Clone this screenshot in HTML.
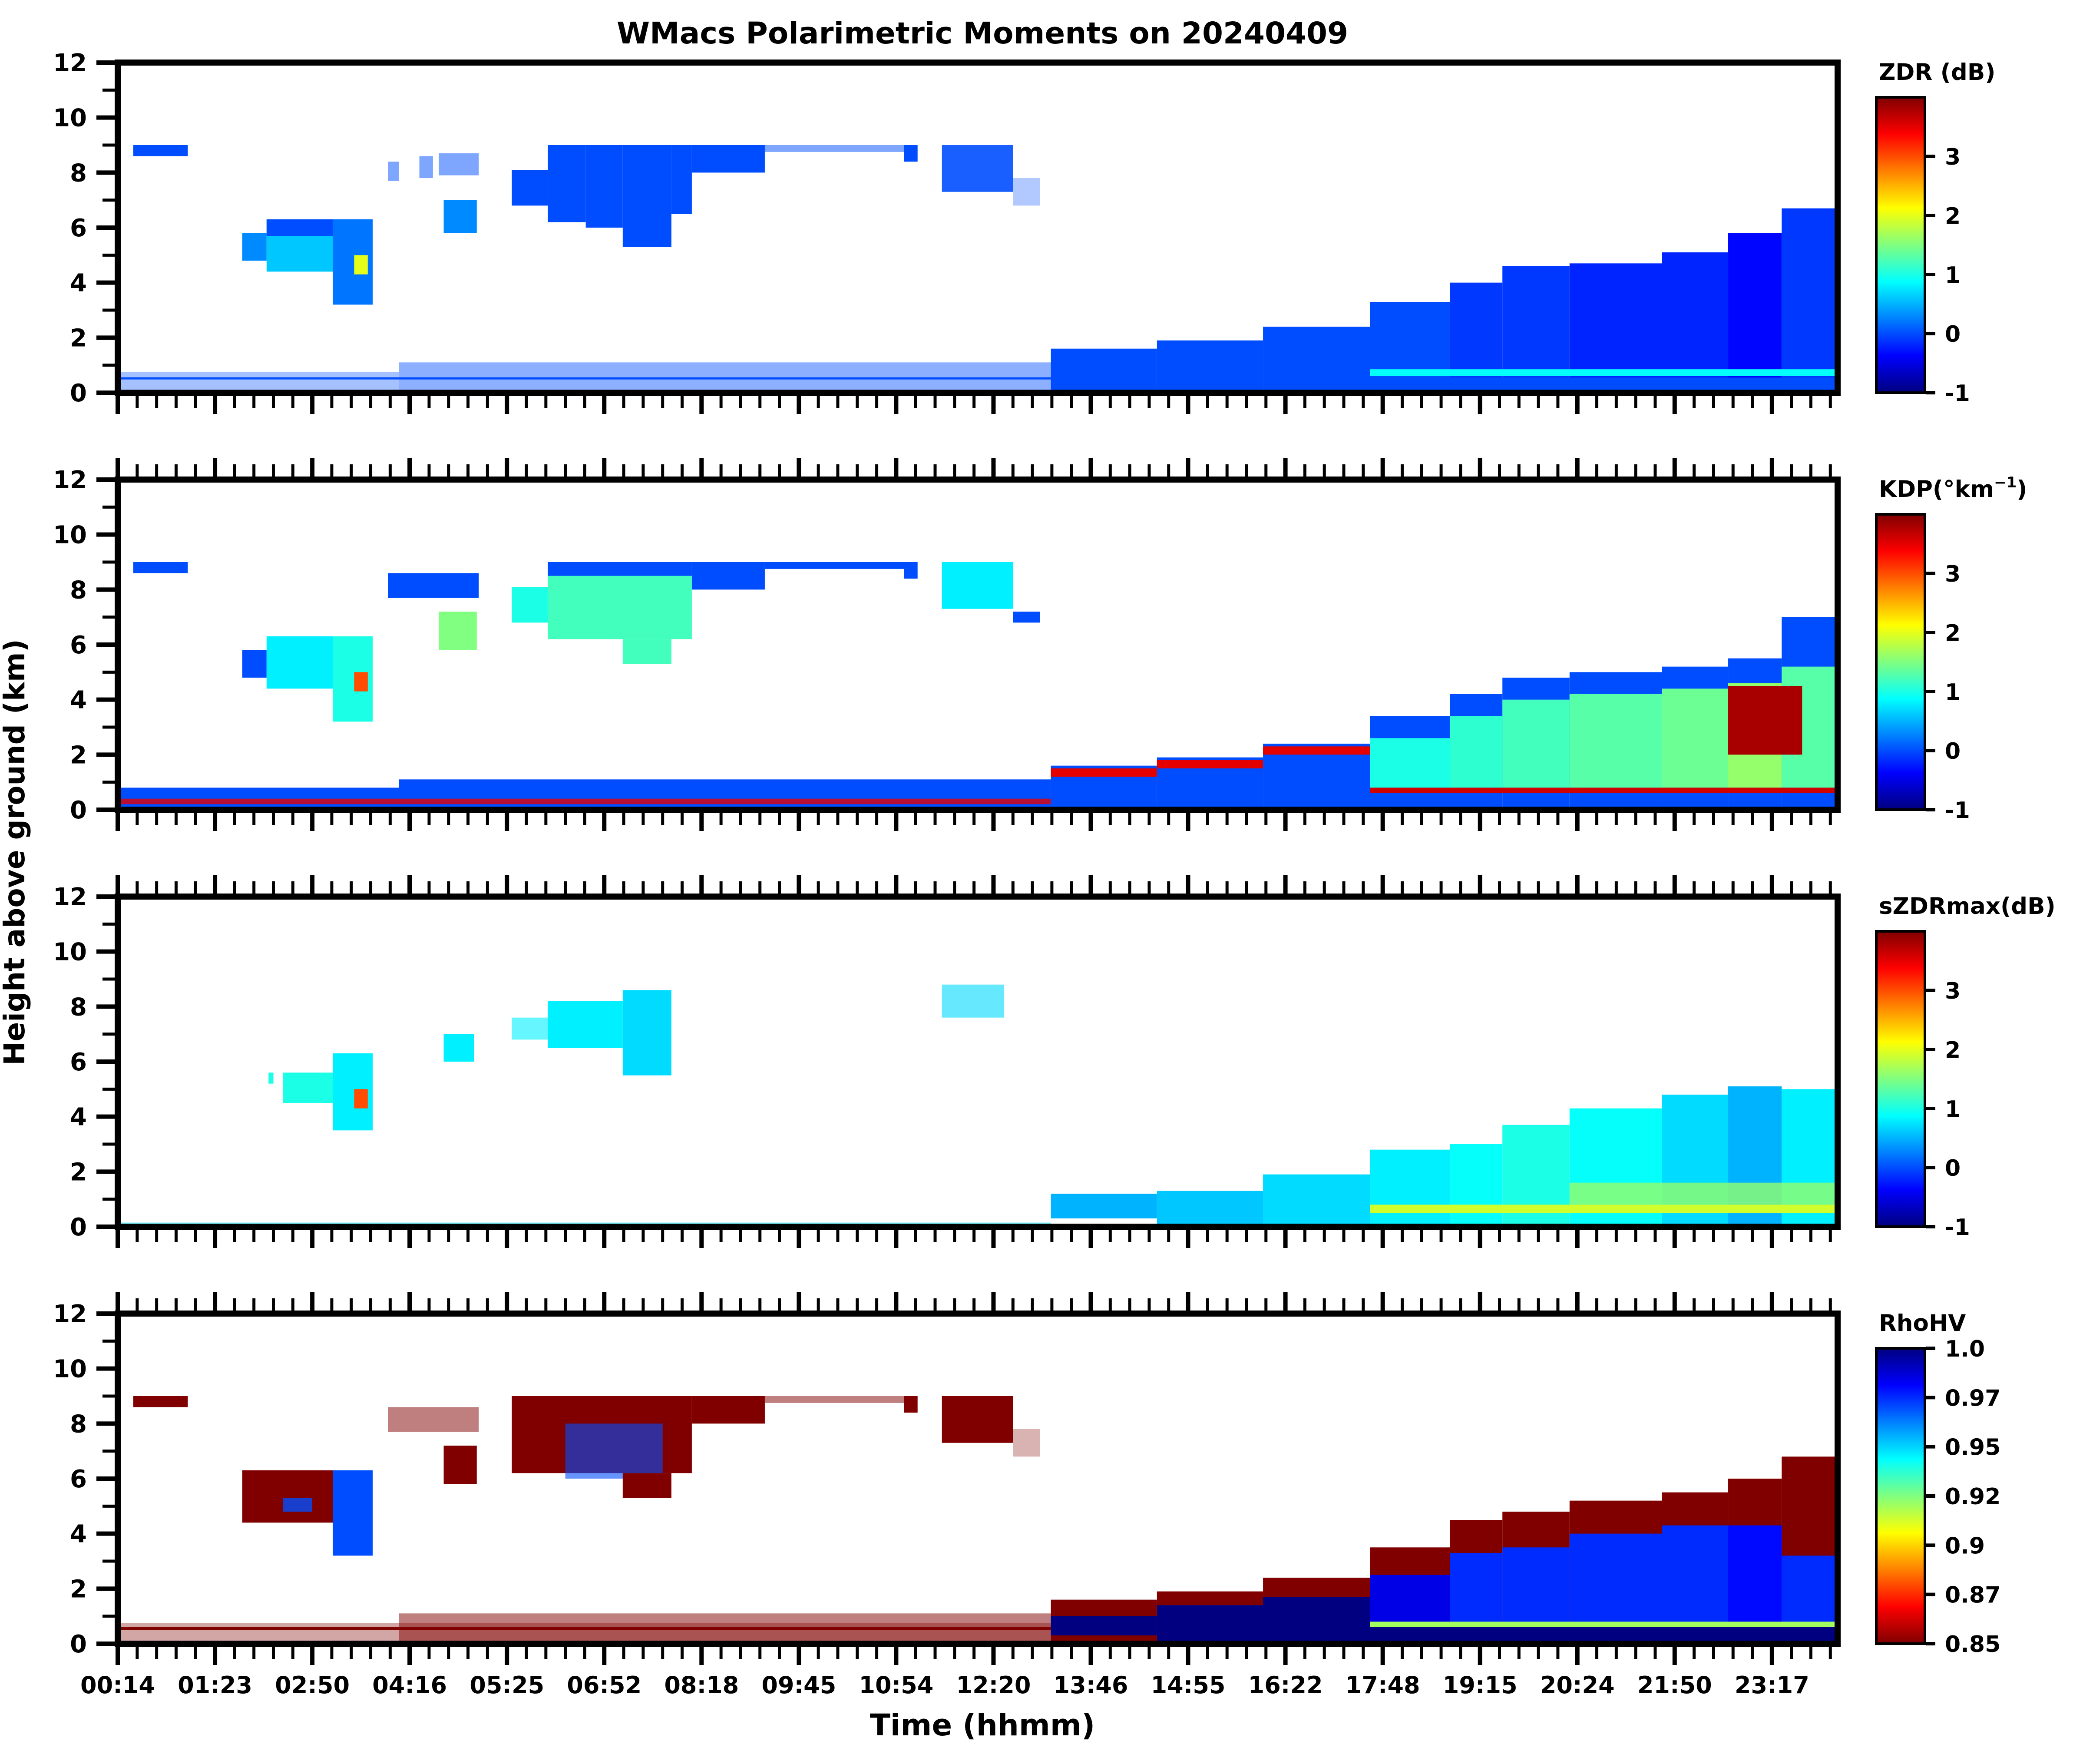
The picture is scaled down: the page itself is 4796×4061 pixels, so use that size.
<!DOCTYPE html>
<html><head><meta charset="utf-8">
<style>
html,body{margin:0;padding:0;background:#fff;}
svg text{font-family:"DejaVu Sans","Liberation Sans",sans-serif;font-weight:bold;fill:#000;}
</style></head>
<body>
<svg id="fig" xmlns="http://www.w3.org/2000/svg" width="4796" height="4056" viewBox="0 0 4796 4056">
<rect x="0" y="0" width="4796" height="4056" fill="#fff"/>
<text x="2262" y="100" font-size="69" text-anchor="middle">WMacs Polarimetric Moments on 20240409</text>
<text x="0" y="0" font-size="66" text-anchor="middle" transform="translate(56,1962) rotate(-90)">Height above ground (km)</text>
<text x="2262" y="3995" font-size="69" text-anchor="middle">Time (hhmm)</text>
<g id="layers"></g>
</svg>
<script>
// ---- data (time in major-tick units, height in km, value) ----
const xTickLabels = ["00:14","01:23","02:50","04:16","05:25","06:52","08:18","09:45","10:54","12:20","13:46","14:55","16:22","17:48","19:15","20:24","21:50","23:17"];
const yTickValues = [0,2,4,6,8,10,12];
const cbTicksMoment = [-1,0,1,2,3];
const cbTicksRho = [0.85,0.875,0.9,0.925,0.95,0.975,1.0];
const cbTickLabelsRho = ["0.85","0.87","0.9","0.92","0.95","0.97","1.0"];

// [t0, t1, h0, h1, value, density]
const zdrSegs = [
[0.16,0.72,8.6,9.0,0,1],[1.28,1.53,4.8,5.8,0.3,1],[1.53,2.21,4.4,6.3,0.6,1],[1.53,2.21,5.7,6.3,0,1],
[2.21,2.62,3.2,6.3,0.2,1],[2.43,2.57,4.3,5.0,2.0,1],[2.78,2.89,7.7,8.4,0,0.5],[3.10,3.24,7.8,8.6,0,0.5],
[3.30,3.71,7.9,8.7,0,0.5],[3.35,3.69,5.8,7.0,0.3,1],[4.05,4.42,6.8,8.1,0,1],[4.42,4.81,6.2,9.0,0,1],
[4.81,5.19,6.0,9.0,0,1],[5.19,5.69,5.3,9.0,0,1],[5.69,5.90,6.5,9.0,0,1],[5.90,6.65,8.0,9.0,0,1],
[6.65,8.08,8.75,9.0,0,0.5],[8.08,8.22,8.4,9.0,0,1],[8.47,9.20,7.3,9.0,0,0.9],[9.20,9.48,6.8,7.8,0,0.3],
[0,2.89,0,0.75,0,0.35],[0,9.59,0.48,0.56,0,1],[2.89,9.59,0,1.1,0,0.45],[9.59,10.68,0,1.6,0,1],
[10.68,11.77,0,1.9,0,1],[11.77,12.87,0,2.4,0,1],[12.87,13.69,0,3.3,0,1],[13.69,14.23,0,4.0,-0.1,1],
[14.23,14.92,0,4.6,-0.1,1],[14.92,15.87,0,4.7,-0.2,1],[15.87,16.55,0,5.1,-0.2,1],[16.55,17.10,0,5.8,-0.35,1],
[17.10,17.7,0,6.7,-0.1,1],[12.87,17.7,0,0.55,0,1],[12.87,17.7,0.6,0.85,0.9,1]
];
const kdpSegs = [
[0.16,0.72,8.6,9.0,0,1],[1.28,1.53,4.8,5.8,0,1],[1.53,2.21,4.4,6.3,0.8,1],[2.21,2.62,3.2,6.3,1.0,1],
[2.43,2.57,4.3,5.0,3.0,1],[2.78,3.71,7.7,8.6,0,1],[3.30,3.69,5.8,7.2,1.5,1],[4.05,4.42,6.8,8.1,1.0,1],
[4.42,5.90,6.2,9.0,1.2,1],[5.19,5.69,5.3,6.2,1.2,1],[4.42,5.90,8.5,9.0,0,1],[5.90,6.65,8.0,9.0,0,1],
[6.65,8.08,8.75,9.0,0,1],[8.08,8.22,8.4,9.0,0,1],[8.47,9.20,7.3,9.0,0.8,1],[9.20,9.48,6.8,7.2,0,1],
[0,9.59,0,0.8,0,1],[2.89,9.59,0,1.1,0,1],[0,9.59,0.2,0.4,3.5,0.8],
[9.59,10.68,0,1.6,0,1],[9.59,10.68,1.2,1.5,3.5,1],[10.68,11.77,0,1.9,0,1],[10.68,11.77,1.5,1.8,3.5,1],
[11.77,12.87,0,2.4,0,1],[11.77,12.87,2.0,2.3,3.5,1],
[12.87,13.69,0,3.4,0,1],[13.69,14.23,0,4.2,0,1],[14.23,14.92,0,4.8,0,1],[14.92,15.87,0,5.0,0,1],
[15.87,16.55,0,5.2,0,1],[16.55,17.10,0,5.5,0,1],[17.10,17.7,0,7.0,0,1],
[12.87,13.69,0.8,2.6,1.0,1],[13.69,14.23,0.8,3.4,1.1,1],[14.23,14.92,0.8,4.0,1.2,1],[14.92,15.87,0.8,4.2,1.3,1],
[15.87,16.55,0.8,4.4,1.4,1],[16.55,17.10,0.8,4.6,1.6,1],[17.10,17.7,0.8,5.2,1.3,1],
[16.55,17.31,2.0,4.5,3.8,1],[12.87,17.7,0.6,0.8,3.6,1]
];
const szdrSegs = [
[1.55,1.60,5.2,5.6,1,1],[1.70,2.21,4.5,5.6,1.0,1],[2.21,2.62,3.5,6.3,0.8,1],[2.43,2.57,4.3,5.0,3.0,1],
[3.35,3.66,6.0,7.0,0.8,1],[4.05,4.42,6.8,7.6,0.8,0.6],[4.42,5.19,6.5,8.2,0.8,1],[5.19,5.69,5.5,8.6,0.7,1],
[8.47,9.11,7.6,8.8,0.7,0.6],[0,9.59,0,0.15,0.8,0.5],[9.59,10.68,0.3,1.2,0.5,1],[10.68,11.77,0.1,1.3,0.6,1],
[11.77,12.87,0.1,1.9,0.7,1],[12.87,13.69,0.1,2.8,0.8,1],[13.69,14.23,0.1,3.0,0.9,1],[14.23,14.92,0.1,3.7,1.0,1],
[14.92,15.87,0.1,4.3,0.9,1],[15.87,16.55,0.1,4.8,0.7,1],[16.55,17.10,0.1,5.1,0.5,1],[17.10,17.7,0.1,5.0,0.8,1],
[14.92,17.7,0.8,1.6,1.6,0.8],[12.87,17.7,0.5,0.8,1.9,1]
];
const rhoSegs = [
[0.16,0.72,8.6,9.0,0.85,1],[1.28,2.21,4.4,6.3,0.85,1],[1.7,2.0,4.8,5.3,0.97,0.8],[2.21,2.62,3.2,6.3,0.97,1],
[2.78,3.71,7.7,8.6,0.85,0.5],[3.35,3.69,5.8,7.2,0.85,1],[4.05,5.90,6.2,9.0,0.85,1],[4.6,5.6,6.0,8.0,0.97,0.6],
[5.19,5.69,5.3,6.2,0.85,1],[5.90,6.65,8.0,9.0,0.85,1],[6.65,8.08,8.75,9.0,0.85,0.5],[8.08,8.22,8.4,9.0,0.85,1],
[8.47,9.20,7.3,9.0,0.85,1],[9.20,9.48,6.8,7.8,0.85,0.3],[0,9.59,0,0.75,0.85,0.35],[2.89,9.59,0,1.1,0.85,0.5],
[0,9.59,0.5,0.6,0.85,1],[9.59,10.68,0,1.6,0.85,1],[9.59,10.68,0.3,1.0,1.0,1],[10.68,11.77,0,1.9,0.85,1],
[10.68,11.77,0,1.4,1.0,1],[11.77,12.87,0,2.4,0.85,1],[11.77,12.87,0,1.7,1.0,1],
[12.87,13.69,0,3.5,0.85,1],[13.69,14.23,0,4.5,0.85,1],[14.23,14.92,0,4.8,0.85,1],[14.92,15.87,0,5.2,0.85,1],
[15.87,16.55,0,5.5,0.85,1],[16.55,17.10,0,6.0,0.85,1],[17.10,17.7,0,6.8,0.85,1],
[12.87,13.69,0,2.5,0.985,1],[13.69,14.23,0,3.3,0.975,1],[14.23,14.92,0,3.5,0.975,1],[14.92,15.87,0,4.0,0.975,1],
[15.87,16.55,0,4.3,0.975,1],[16.55,17.10,0,4.3,0.98,1],[17.10,17.7,0,3.2,0.975,1],
[12.87,17.7,0,0.6,1.0,1],[12.87,17.7,0.6,0.8,0.92,1]
];

// ---- layout ----
const NS = "http://www.w3.org/2000/svg";
const X0 = 271, XR = 4231, MAJ = 224.05;
const PH = 760, KM = 12;
const panelTops = [144, 1104, 2064, 3024];
const CBX = 4320, CBW = 112;

function xPix(t){ return X0 + t*MAJ; }
function yPix(h, top){ return top + PH - h*PH/KM; }
function clamp(v){ return Math.max(0, Math.min(1, v)); }
function jet(t){
  t = clamp(t);
  const r = clamp(1.5-Math.abs(4*t-3)), g = clamp(1.5-Math.abs(4*t-2)), b = clamp(1.5-Math.abs(4*t-1));
  return "rgb("+Math.round(r*255)+","+Math.round(g*255)+","+Math.round(b*255)+")";
}
function mk(tag, attrs, parent){
  const e = document.createElementNS(NS, tag);
  for (const k in attrs) e.setAttribute(k, attrs[k]);
  parent.appendChild(e);
  return e;
}
const root = document.getElementById("layers");
const defs = mk("defs", {}, root);

const panels = [
  {segs: zdrSegs, vmin:-1, vmax:4, rev:false, title:"ZDR (dB)", key:"zdr"},
  {segs: kdpSegs, vmin:-1, vmax:4, rev:false, title:"KDP", key:"kdp"},
  {segs: szdrSegs, vmin:-1, vmax:4, rev:false, title:"sZDRmax(dB)", key:"szdr"},
  {segs: rhoSegs, vmin:0.85, vmax:1.0, rev:true, title:"RhoHV", key:"rhohv"}
];

panels.forEach((p, i) => {
  const top = panelTops[i], bot = top + PH;
  const g = mk("g", {}, root);
  
  
  const cp = mk("clipPath", {id:"clip"+i}, defs);
  mk("rect", {x:X0, y:top, width:XR-X0, height:PH}, cp);
  const hm = mk("g", {"clip-path":"url(#clip"+i+")"}, g);
  
  
  const cmap = v => { let t = (v-p.vmin)/(p.vmax-p.vmin); return jet(p.rev ? 1-t : t); };
  p.segs.forEach(s => {
    const x0 = xPix(s[0]), x1 = xPix(s[1]), y0 = yPix(s[3], top), y1 = yPix(s[2], top);
    const r = mk("rect", {x:x0, y:y0, width:Math.max(1,x1-x0), height:Math.max(1,y1-y0), fill:cmap(s[4]), "fill-opacity":s[5]}, hm);
    
    
  });
  const fr = mk("rect", {x:X0, y:top, width:XR-X0, height:PH, fill:"none", stroke:"#000", "stroke-width":14}, g);
  
  
  for (let j = 0; ; j++) {
    const x = X0 + j*MAJ/5;
    if (x > XR + 1) break;
    const major = j % 5 === 0;
    const len = major ? 42 : 28, w = major ? 10 : 7;
    const tb = mk("line", {x1:x, x2:x, y1:bot+7, y2:bot+7+len, stroke:"#000", "stroke-width":w}, g);
    
    
    if (i > 0) {
      const tt = mk("line", {x1:x, x2:x, y1:top-7, y2:top-7-len, stroke:"#000", "stroke-width":w}, g);
      
      
    }
  }
  if (i === 3) {
    xTickLabels.forEach((lab, k) => {
      const t = mk("text", {x:xPix(k), y:3898, "font-size":54, "text-anchor":"middle"}, g);
      t.textContent = lab;
      
      
    });
  }
  for (let h = 0; h <= KM; h++) {
    const y = yPix(h, top), major = h % 2 === 0;
    const len = major ? 42 : 28, w = major ? 10 : 7;
    const tl = mk("line", {x1:X0-7, x2:X0-7-len, y1:y, y2:y, stroke:"#000", "stroke-width":w}, g);
    
    
  }
  yTickValues.forEach(v => {
    const t = mk("text", {x:200, y:yPix(v, top)+20, "font-size":56, "text-anchor":"end"}, g);
    t.textContent = String(v);
    
    
  });
  const cbTop = top + 80, cbBot = bot, cbH = cbBot - cbTop;
  const grad = mk("linearGradient", {id:"grad"+i, x1:0, y1:1, x2:0, y2:0}, defs);
  for (let k = 0; k <= 40; k++) {
    const t = k/40;
    mk("stop", {offset:t, "stop-color":jet(p.rev ? 1-t : t)}, grad);
  }
  const cb = mk("rect", {x:CBX, y:cbTop, width:CBW, height:cbH, fill:"url(#grad"+i+")", stroke:"#000", "stroke-width":6}, g);
  
  
  const ct = mk("text", {x:CBX+6, y:top+40, "font-size":53}, g);
  if (p.key === "kdp") {
    ct.textContent = "KDP(°km";
    const sup = mk("tspan", {"font-size":34, dy:-22}, ct); sup.textContent = "−1";
    const cl = mk("tspan", {dy:22}, ct); cl.textContent = ")";
  } else {
    ct.textContent = p.title;
  }
  
  
  const ticks = p.rev ? cbTicksRho : cbTicksMoment;
  ticks.forEach((v, k) => {
    const y = cbBot - (v-p.vmin)/(p.vmax-p.vmin)*cbH;
    const tk = mk("line", {x1:CBX+CBW+3, x2:CBX+CBW+24, y1:y, y2:y, stroke:"#000", "stroke-width":8}, g);
    
    
    const tl = mk("text", {x:CBX+CBW+46, y:y+19, "font-size":52}, g);
    tl.textContent = p.rev ? cbTickLabelsRho[k] : String(v);
    
    
  });
});
</script>
</body></html>
